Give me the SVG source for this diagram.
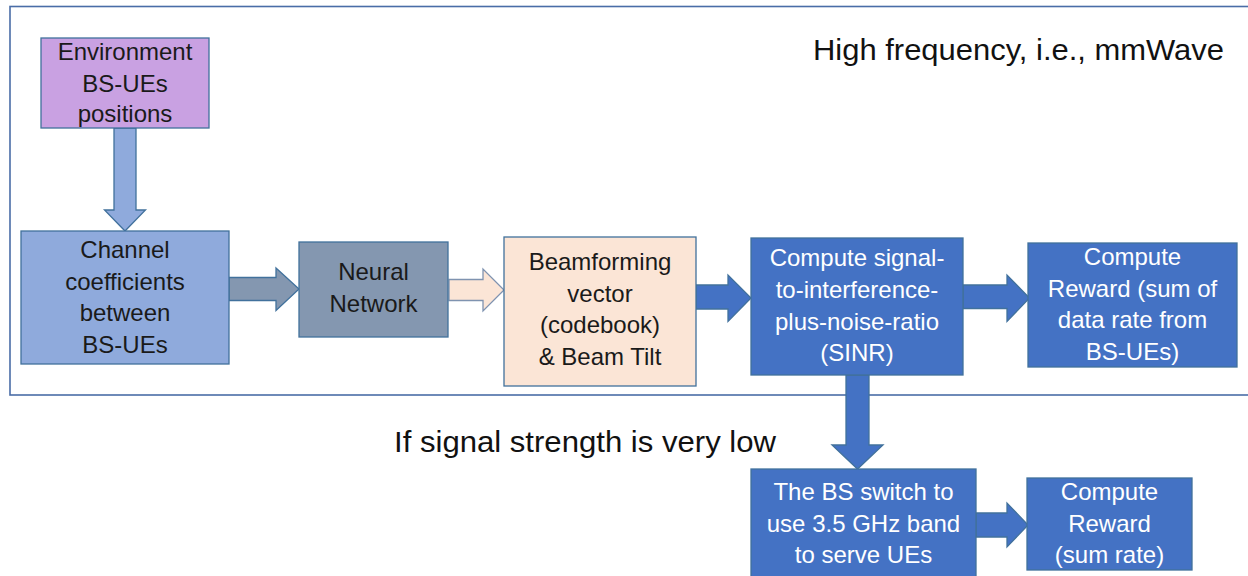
<svg xmlns="http://www.w3.org/2000/svg" width="1248" height="576" viewBox="0 0 1248 576">
  <style>
    .frame { fill: none; stroke: #4A6DA7; stroke-width: 1.6; }
    .box { stroke: #41719C; stroke-width: 1.3; }
    .purple { fill: #C9A1E2; }
    .light { fill: #8FAADC; }
    .grey { fill: #8497B0; }
    .peach { fill: #FBE5D6; }
    .blue { fill: #4472C4; }
    .arrow { stroke: #41719C; stroke-width: 1.3; stroke-linejoin: miter; }
    .arrow-peach { fill: #FBE5D6; stroke: #7F93B0; stroke-width: 1.3; }
    text { font-family: "Liberation Sans", Arial, sans-serif; }
    .lbl { font-size: 24px; text-anchor: middle; fill: #1A1A1A; }
    .lbl-w { font-size: 24px; text-anchor: middle; fill: #FFFFFF; }
    .title { font-size: 30px; fill: #111111; }
  </style>

  <rect width="1248" height="576" fill="#FFFFFF"/>

  <!-- mmWave region frame (open on the right) -->
  <rect class="frame" x="10" y="6.5" width="1260" height="388.5"/>

  <text class="title" x="813" y="60" textLength="411" lengthAdjust="spacingAndGlyphs">High frequency, i.e., mmWave</text>
  <text class="title" x="394" y="452" textLength="382" lengthAdjust="spacingAndGlyphs">If signal strength is very low</text>

  <!-- connectors -->
  <g id="connectors">
    <polygon class="arrow light" points="114,128 136,128 136,210 145.5,210 125,231 104.5,210 114,210"/>
    <polygon class="arrow grey" points="229,277.5 276,277.5 276,268 299,289 276,310.5 276,300.5 229,300.5"/>
    <polygon class="arrow-peach" points="449,279.5 483,279.5 483,269 504,290 483,311 483,300.5 449,300.5"/>
    <polygon class="arrow blue" points="696,285 728,285 728,275 751,298 728,321.5 728,309 696,309"/>
    <polygon class="arrow blue" points="963,285 1007,285 1007,275 1029.5,298 1007,321.5 1007,308.5 963,308.5"/>
    <polygon class="arrow blue" points="846,375 869,375 869,445 883,445 857.5,469 832,445 846,445"/>
    <polygon class="arrow blue" points="976,513 1007,513 1007,503 1028,525 1007,547 1007,537 976,537"/>
  </g>

  <g id="environment">
    <rect class="box purple" x="41" y="38" width="168" height="90"/>
    <text class="lbl" x="125" y="60">Environment</text>
    <text class="lbl" x="125" y="92">BS-UEs</text>
    <text class="lbl" x="125" y="122">positions</text>
  </g>

  <g id="channel">
    <rect class="box light" x="21" y="231" width="208" height="133"/>
    <text class="lbl" x="125" y="258">Channel</text>
    <text class="lbl" x="125" y="290">coefficients</text>
    <text class="lbl" x="125" y="321">between</text>
    <text class="lbl" x="125" y="353">BS-UEs</text>
  </g>

  <g id="neural-network">
    <rect class="box grey" x="299" y="242" width="149" height="95"/>
    <text class="lbl" x="373.5" y="280">Neural</text>
    <text class="lbl" x="373.5" y="312">Network</text>
  </g>

  <g id="beamforming">
    <rect class="box peach" x="504" y="237" width="192" height="149"/>
    <text class="lbl" x="600" y="270">Beamforming</text>
    <text class="lbl" x="600" y="302">vector</text>
    <text class="lbl" x="600" y="333">(codebook)</text>
    <text class="lbl" x="600" y="365">&amp; Beam Tilt</text>
  </g>

  <g id="sinr">
    <rect class="box blue" x="751" y="238" width="212" height="137"/>
    <text class="lbl-w" x="857" y="266">Compute signal-</text>
    <text class="lbl-w" x="857" y="298">to-interference-</text>
    <text class="lbl-w" x="857" y="330">plus-noise-ratio</text>
    <text class="lbl-w" x="857" y="361">(SINR)</text>
  </g>

  <g id="reward-mmwave">
    <rect class="box blue" x="1028" y="243" width="209" height="124"/>
    <text class="lbl-w" x="1132.5" y="265">Compute</text>
    <text class="lbl-w" x="1132.5" y="297">Reward (sum of</text>
    <text class="lbl-w" x="1132.5" y="328">data rate from</text>
    <text class="lbl-w" x="1132.5" y="360">BS-UEs)</text>
  </g>

  <g id="band-switch">
    <rect class="box blue" x="751" y="469" width="225" height="115"/>
    <text class="lbl-w" x="863.5" y="500">The BS switch to</text>
    <text class="lbl-w" x="863.5" y="532">use 3.5 GHz band</text>
    <text class="lbl-w" x="863.5" y="563">to serve UEs</text>
  </g>

  <g id="reward-sub6">
    <rect class="box blue" x="1027" y="478" width="165" height="92"/>
    <text class="lbl-w" x="1109.5" y="500">Compute</text>
    <text class="lbl-w" x="1109.5" y="532">Reward</text>
    <text class="lbl-w" x="1109.5" y="563">(sum rate)</text>
  </g>
</svg>
